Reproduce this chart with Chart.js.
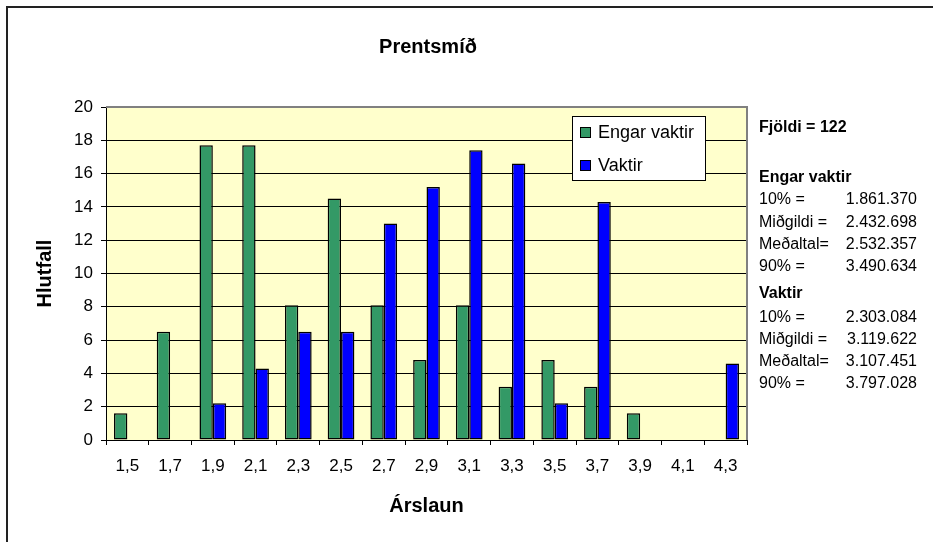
<!DOCTYPE html>
<html>
<head>
<meta charset="utf-8">
<title>Prentsmíð</title>
<script src="https://cdn.jsdelivr.net/npm/chart.js@4/dist/chart.umd.min.js"></script>
<style>
  html, body { margin: 0; padding: 0; background: #fff; }
  #wrap { width: 933px; height: 542px; }
</style>
</head>
<body>
<div id="wrap"><canvas id="chart" width="933" height="542"></canvas></div>
<script>
// Data
const categories = ['1,5', '1,7', '1,9', '2,1', '2,3', '2,5', '2,7', '2,9', '3,1', '3,3', '3,5', '3,7', '3,9', '4,1', '4,3'];
const engarVaktir = [1.6, 6.5, 17.7, 17.7, 8.1, 14.5, 8.1, 4.8, 8.1, 3.2, 4.8, 3.2, 1.6, null, null];
const vaktir = [null, null, 2.2, 4.3, 6.5, 6.5, 13.0, 15.2, 17.4, 16.6, 2.2, 14.3, null, null, 4.6];

const seriesNames = ['Engar vaktir', 'Vaktir'];
const seriesColors = ['#339966', '#0000FF'];

const yTicks = { min: 0, max: 20, step: 2 };

// Summary box on the right
const countText = 'Fjöldi = 122';
const statLabels = ['10% =', 'Miðgildi =', 'Meðaltal=', '90% ='];
const engarStats = ['1.861.370', '2.432.698', '2.532.357', '3.490.634'];
const vaktirStats = ['2.303.084', '3.119.622', '3.107.451', '3.797.028'];

const FONT = "'Liberation Sans', Arial, sans-serif";
Chart.defaults.font.family = FONT;
Chart.defaults.color = '#000';

// Background, frame, plot border, legend, title and stats panel
const decorations = {
    id: 'decorations',
    beforeDraw(chart) {
        const { ctx, chartArea: a } = chart;
        ctx.save();
        ctx.fillStyle = '#fff';
        ctx.fillRect(0, 0, chart.width, chart.height);
        ctx.fillStyle = '#FFFFCC';
        ctx.fillRect(a.left, a.top, a.right - a.left, a.bottom - a.top);
        ctx.restore();
    },
    afterDatasetsDraw(chart) {
        const { ctx, chartArea: a } = chart;
        ctx.save();
        // grey plot border on top and right
        ctx.strokeStyle = '#808080';
        ctx.lineWidth = 2;
        ctx.beginPath();
        ctx.moveTo(a.left, a.top);
        ctx.lineTo(a.right, a.top);
        ctx.lineTo(a.right, a.bottom);
        ctx.stroke();
        ctx.restore();
    },
    afterDraw(chart) {
        const { ctx } = chart;
        ctx.save();

        // outer frame (cut off at right and bottom)
        ctx.strokeStyle = '#222';
        ctx.lineWidth = 2;
        ctx.strokeRect(7, 7, 960, 580);

        // title
        ctx.fillStyle = '#000';
        ctx.font = 'bold 20px ' + FONT;
        ctx.textAlign = 'center';
        ctx.textBaseline = 'alphabetic';
        ctx.fillText('Prentsmíð', 428, 53);

        // legend box
        ctx.fillStyle = '#fff';
        ctx.fillRect(572, 116, 133, 64);
        ctx.strokeStyle = '#000';
        ctx.lineWidth = 1;
        ctx.strokeRect(572.5, 116.5, 133, 64);
        ctx.font = '18px ' + FONT;
        ctx.textAlign = 'left';
        chart.data.datasets.forEach((ds, i) => {
            const y = 127 + i * 33;
            ctx.fillStyle = ds.backgroundColor;
            ctx.fillRect(580, y, 10, 10);
            ctx.strokeStyle = '#000';
            ctx.strokeRect(580.5, y + 0.5, 10, 10);
            ctx.fillStyle = '#000';
            ctx.fillText(ds.label, 598, y + 11);
        });

        // stats panel
        const lx = 759, rx = 917;
        ctx.font = 'bold 16px ' + FONT;
        ctx.fillText(countText, lx, 132);
        ctx.fillText(seriesNames[0], lx, 182);
        ctx.fillText(seriesNames[1], lx, 298);
        const rowsA = [204, 226.5, 248.5, 270.5];
        const rowsB = [322, 344, 366, 388];
        ctx.font = '16px ' + FONT;
        statLabels.forEach((lab, i) => {
            ctx.textAlign = 'left';
            ctx.fillText(lab, lx, rowsA[i]);
            ctx.fillText(lab, lx, rowsB[i]);
            ctx.textAlign = 'right';
            ctx.fillText(engarStats[i], rx, rowsA[i]);
            ctx.fillText(vaktirStats[i], rx, rowsB[i]);
        });

        ctx.restore();
    }
};

new Chart(document.getElementById('chart'), {
    type: 'bar',
    data: {
        labels: categories,
        datasets: [
            {
                label: seriesNames[0],
                data: engarVaktir,
                backgroundColor: seriesColors[0],
                borderColor: '#000',
                borderWidth: 1.5,
                borderSkipped: false
            },
            {
                label: seriesNames[1],
                data: vaktir,
                backgroundColor: seriesColors[1],
                borderColor: '#000',
                borderWidth: 1.5,
                borderSkipped: false
            }
        ]
    },
    options: {
        responsive: false,
        animation: false,
        devicePixelRatio: 1,
        categoryPercentage: 0.625,
        barPercentage: 1,
        layout: {
            padding: { left: 0, top: 107, right: 186, bottom: 0 }
        },
        plugins: {
            legend: { display: false },
            title: { display: false },
            tooltip: { enabled: false }
        },
        scales: {
            x: {
                grid: {
                    offset: true,
                    drawOnChartArea: false,
                    color: '#000',
                    tickLength: 5
                },
                border: { color: '#000', width: 1 },
                ticks: {
                    padding: 11,
                    maxRotation: 0,
                    autoSkip: false,
                    font: { size: 17 }
                },
                title: {
                    display: true,
                    text: 'Árslaun',
                    padding: 24,
                    font: { size: 20, weight: 'bold' }
                },
                afterFit(scale) { scale.height = 102; }
            },
            y: {
                min: yTicks.min,
                max: yTicks.max,
                grid: {
                    color: '#000',
                    tickLength: 5
                },
                border: { color: '#000', width: 1 },
                ticks: {
                    stepSize: yTicks.step,
                    padding: 8,
                    font: { size: 17 }
                },
                title: {
                    display: true,
                    text: 'Hlutfall',
                    padding: 33,
                    font: { size: 20, weight: 'bold' }
                },
                afterFit(scale) { scale.width = 106; }
            }
        }
    },
    plugins: [decorations]
});
</script>
</body>
</html>
